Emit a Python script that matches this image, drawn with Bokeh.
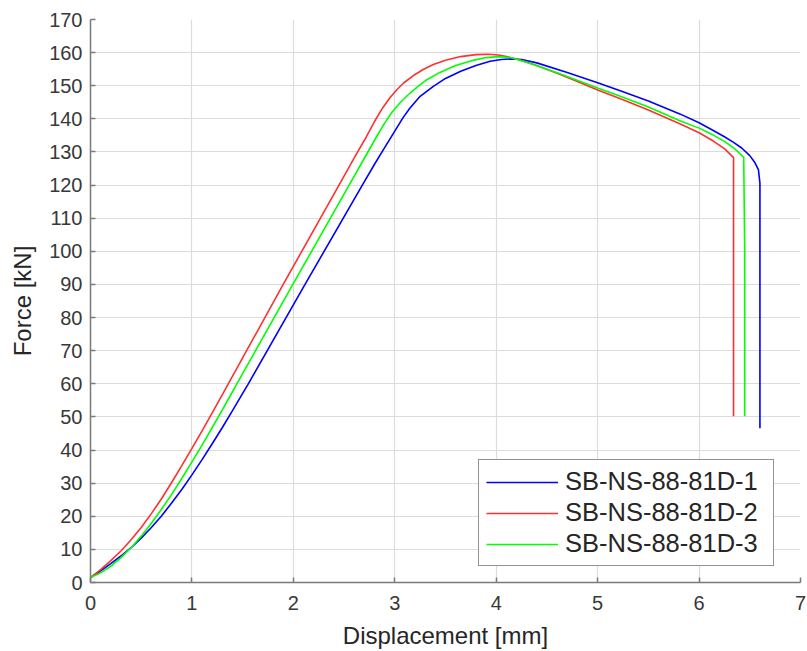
from bokeh.plotting import figure
from bokeh.models import Range1d, Legend, LegendItem, FixedTicker
from bokeh.embed import file_html
from bokeh.resources import INLINE

# Data
x1 = [0, 0.1, 0.2, 0.3, 0.4, 0.5, 0.6, 0.7, 0.8, 0.9, 1.0, 1.1, 1.2, 1.3, 1.4, 1.5, 1.55,
      2.115, 2.68, 2.8, 2.9, 3.0, 3.08, 3.15, 3.25, 3.38, 3.5, 3.65, 3.8,
      3.94, 4.05, 4.14, 4.25, 4.4, 4.7, 5.0, 5.25, 5.5, 5.81, 6.0, 6.14, 6.25, 6.34, 6.42, 6.5,
      6.55, 6.585, 6.60, 6.60, 6.60]
y1 = [1.5, 3.5, 5.7, 8.0, 10.5, 13.4, 16.6, 20.1, 24.0, 28.1, 32.5, 37.1, 41.9, 46.8, 51.9, 57.1, 59.7,
      90, 120, 126.3, 131.3, 136.3, 140.3, 143.3, 146.8, 149.8, 152.2, 154.4, 156.1,
      157.4, 157.9, 158.1, 157.9, 156.9, 154.0, 150.9, 148.2, 145.4, 141.5, 138.8, 136.5, 134.6, 132.9, 131.2, 128.9,
      126.8, 124.7, 120.6, 100, 46.6]

x2 = [0, 0.1, 0.2, 0.3, 0.4, 0.5, 0.6, 0.7, 0.8, 0.9, 1.0, 1.1, 1.2, 1.3, 1.357,
      1.90, 2.45, 2.6, 2.72, 2.80, 2.88, 2.95, 3.02, 3.09, 3.18, 3.28, 3.38,
      3.5, 3.65, 3.8, 3.92, 4.02, 4.1, 4.2, 4.4, 4.6, 4.8, 5.0, 5.25, 5.5, 5.81, 6.0, 6.14, 6.25,
      6.34, 6.34, 6.34]
y2 = [1.5, 3.9, 6.6, 9.5, 12.9, 16.6, 20.8, 25.3, 30.2, 35.3, 40.5, 45.8, 51.2, 56.7, 59.9,
      90, 120, 128.2, 134.6, 139.2, 143.3, 146.3, 148.8, 150.9, 153.0, 154.9, 156.4,
      157.7, 158.8, 159.4, 159.5, 159.3, 158.8, 158.1, 156.1, 153.8, 151.3, 148.7, 145.8, 142.7, 138.5, 135.8, 133.3, 131.0,
      128.3, 100, 50.2]

x3 = [0, 0.1, 0.2, 0.3, 0.4, 0.5, 0.6, 0.7, 0.8, 0.9, 1.0, 1.1, 1.2, 1.3, 1.4, 1.44,
      1.995, 2.55, 2.7, 2.82, 2.9, 2.97, 3.05, 3.13, 3.22, 3.32, 3.45, 3.6,
      3.75, 3.9, 4.02, 4.14, 4.3, 4.6, 5.0, 5.25, 5.5, 5.81, 6.0, 6.14, 6.25, 6.35, 6.44, 6.45, 6.45]
y3 = [1.5, 2.9, 4.9, 7.5, 10.5, 14.0, 17.9, 22.1, 26.6, 31.4, 36.4, 41.5, 46.8, 52.1, 57.6, 59.8,
      90, 120, 128.1, 134.6, 138.7, 141.9, 144.8, 147.2, 149.6, 151.9, 154.1, 156.1,
      157.5, 158.5, 158.8, 158.5, 157.1, 153.9, 149.3, 146.5, 143.6, 139.4, 137.2, 135.1, 133.2, 131.0, 128.4, 100, 50.2]

names = ["SB-NS-88-81D-1", "SB-NS-88-81D-2", "SB-NS-88-81D-3"]
colors = ["#0000ff", "#ff3030", "#00ff00"]

x_ticks = [0, 1, 2, 3, 4, 5, 6, 7]
y_ticks = list(range(0, 171, 10))

FONT = "Liberation Sans"

p = figure(width=807, height=651, output_backend="svg", toolbar_location=None,
           x_range=Range1d(0, 7), y_range=Range1d(0, 170),
           min_border_left=90, min_border_right=7, min_border_top=19, min_border_bottom=69)
p.outline_line_color = None
p.background_fill_color = "white"
p.border_fill_color = "white"

renderers = []
for xs, ys, c in zip([x1, x2, x3], [y1, y2, y3], colors):
    r = p.line(xs, ys, line_color=c, line_width=1.6)
    renderers.append(r)

for ax in (p.xaxis[0], p.yaxis[0]):
    ax.axis_line_color = "#7a7a7a"
    ax.axis_line_width = 1.5
    ax.major_tick_line_color = "#7a7a7a"
    ax.major_tick_line_width = 1.5
    ax.major_tick_in = 5
    ax.major_tick_out = 0
    ax.minor_tick_line_color = None
    ax.major_label_text_font = FONT
    ax.major_label_text_font_size = "20px"
    ax.major_label_text_color = "#383838"
    ax.axis_label_text_font = FONT
    ax.axis_label_text_font_size = "24px"
    ax.axis_label_text_font_style = "normal"
    ax.axis_label_text_color = "#262626"

p.xaxis.ticker = FixedTicker(ticks=x_ticks)
p.yaxis.ticker = FixedTicker(ticks=y_ticks)
p.xaxis.axis_label = "Displacement [mm]"
p.yaxis.axis_label = "Force [kN]"
p.xaxis.major_label_standoff = 13
p.xaxis.axis_label_standoff = 9
p.yaxis.major_label_standoff = 8
p.yaxis.axis_label_standoff = 10

p.grid.grid_line_color = "#dcdcdc"
p.grid.grid_line_width = 1.2

legend = Legend(items=[LegendItem(label=n, renderers=[r]) for n, r in zip(names, renderers)],
                location=(388, 16), margin=0, padding=7, spacing=2,
                glyph_width=72, glyph_height=28, label_height=28, label_width=201,
                label_standoff=7,
                label_text_font=FONT, label_text_font_size="25.5px", label_text_color="#262626",
                border_line_color="#262626", border_line_width=1.5,
                background_fill_color="white", background_fill_alpha=1.0)
p.add_layout(legend, "center")

open("out.html", "w").write(file_html(p, INLINE))
